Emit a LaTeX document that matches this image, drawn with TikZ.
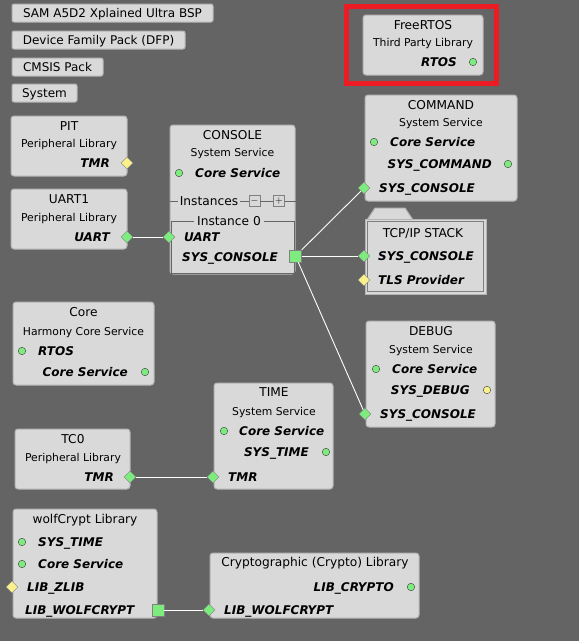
\documentclass[tikz,border=0pt]{standalone}
\usepackage{fontspec}
\setmainfont{DejaVu Sans}
\usetikzlibrary{shapes.geometric}

\definecolor{bggray}{RGB}{100,100,100}
\definecolor{boxgray}{RGB}{217,217,217}
\definecolor{edgegray}{RGB}{180,180,180}
\definecolor{portgreen}{RGB}{125,235,125}
\definecolor{portyellow}{RGB}{250,240,140}
\definecolor{hired}{RGB}{237,28,36}

\begin{document}
\begin{tikzpicture}[x=1pt, y=-1pt,
    comp/.style={draw=edgegray, fill=boxgray, rounded corners=3pt, line width=1pt, inner sep=0pt},
    btn/.style={draw=edgegray, fill=boxgray, rounded corners=2pt, line width=1pt, minimum height=18pt,
        inner sep=0pt, text height=8.6pt, text depth=0pt, font=\fontsize{12}{13}\selectfont},
    title/.style={inner sep=0pt, text height=8.8pt, text depth=0pt, font=\fontsize{12.2}{13}\selectfont},
    sub/.style={inner sep=0pt, text height=7.8pt, text depth=0pt, font=\fontsize{10.8}{12}\selectfont},
    lbl/.style={inner sep=0pt, text height=8.7pt, text depth=0pt, font=\fontsize{12}{13}\selectfont\bfseries\itshape},
    dot/.style={circle, draw=black!75, fill=portgreen, minimum size=7.5pt, inner sep=0pt},
    ydot/.style={dot, fill=portyellow},
    dia/.style={diamond, draw=gray, fill=portgreen, minimum size=12pt, inner sep=0pt},
    ydia/.style={dia, fill=portyellow},
    sq/.style={rectangle, draw=gray, fill=portgreen, minimum size=12pt, inner sep=0pt},
    wire/.style={draw=white, line width=0.9pt}]
    \fill[bggray] (0, 0) rectangle (579, 641);

    % packs
    \node[btn, minimum width=201pt] (bsp) at (112.5, 13) {SAM A5D2 Xplained Ultra BSP};
    \node[btn, minimum width=173pt] (dfp) at (98.5, 40) {Device Family Pack (DFP)};
    \node[btn, minimum width=91pt] (cmsis) at (57.5, 67) {CMSIS Pack};
    \node[btn, minimum width=65pt] (sys) at (44.5, 93) {System};

    % FreeRTOS
    \node[comp, minimum width=120pt, minimum height=60pt] (rtos) at (423, 45) {};
    \node[title] (rtos-n) at (423, 25) {FreeRTOS};
    \node[sub] (rtos-s) at (423, 43) {Third Party Library};
    \node[lbl, anchor=east] (rtos-l) at (457, 62) {RTOS};
    \node[dot] (rtos-rtos) at (473, 62) {};
    \node[draw=hired, line width=5pt, minimum width=150pt, minimum height=77pt] (mark) at (421.5, 44.5) {};

    % PIT
    \node[comp, minimum width=116pt, minimum height=60pt] (pit) at (69, 146) {};
    \node[title] (pit-n) at (69, 126) {PIT};
    \node[sub] (pit-s) at (69, 144) {Peripheral Library};
    \node[lbl, anchor=east] (pit-l) at (110, 163) {TMR};
    \node[ydia] (pit-tmr) at (127, 163) {};

    % UART1
    \node[comp, minimum width=116pt, minimum height=60pt] (uart) at (69, 219) {};
    \node[title] (uart-n) at (69, 199) {UART1};
    \node[sub] (uart-s) at (69, 218) {Peripheral Library};
    \node[lbl, anchor=east] (uart-l) at (110, 237) {UART};
    \node[dia] (uart-uart) at (127, 237) {};

    % CONSOLE
    \node[comp, minimum width=125pt, minimum height=149pt] (con) at (232.5, 199.5) {};
    \node[title] (con-n) at (232.5, 135) {CONSOLE};
    \node[sub] (con-s) at (232.5, 153) {System Service};
    \node[dot] (con-core) at (179, 173) {};
    \node[lbl, anchor=west] (con-cl) at (195, 173) {Core Service};
    \node[title, inner xsep=2pt] (inst) at (209, 201) {Instances};
    \node[draw=gray, fill=boxgray, minimum size=11pt, inner sep=0pt, font=\bfseries] (minus) at (254.5, 201) {$-$};
    \node[draw=gray, fill=boxgray, minimum size=11pt, inner sep=0pt, font=\bfseries] (plus) at (279, 201) {$+$};
    \draw[black!60] (con.west |- inst) -- (inst);
    \draw[black!60] (inst) -- (minus);
    \draw[black!60] (minus) -- (plus);
    \draw[black!60] (plus) -- (con.east |- plus);
    \node[draw=black!60, minimum width=123pt, minimum height=52pt, inner sep=0pt] (inst0) at (232.5, 247) {};
    \node[title, fill=boxgray, inner xsep=3pt] (inst0-n) at (229, 221) {Instance 0};
    \node[dia] (con-uart) at (169, 237) {};
    \node[lbl, anchor=west] (con-ul) at (184, 237) {UART};
    \node[lbl, anchor=west] (con-sl) at (182, 257) {SYS\_CONSOLE};
    \node[sq] (con-sys) at (295.5, 256) {};

    % COMMAND
    \node[comp, minimum width=152pt, minimum height=106pt] (cmd) at (441, 148) {};
    \node[title] (cmd-n) at (441, 105) {COMMAND};
    \node[sub] (cmd-s) at (441, 123) {System Service};
    \node[dot] (cmd-core) at (374, 142) {};
    \node[lbl, anchor=west] (cmd-cl) at (390, 142) {Core Service};
    \node[lbl, anchor=east] (cmd-ml) at (492, 164) {SYS\_COMMAND};
    \node[dot] (cmd-cmd) at (508, 164) {};
    \node[lbl, anchor=west] (cmd-sl) at (379, 188) {SYS\_CONSOLE};
    \node[dia] (cmd-con) at (364, 188) {};

    % TCP/IP STACK
    \draw[draw=edgegray, fill=boxgray, line width=1pt] (367, 220) -- (375, 208) -- (405, 208) -- (413, 220);
    \node[draw=edgegray, fill=boxgray, line width=1pt, minimum width=121pt, minimum height=75pt] (tcp) at (425.5, 256.5) {};
    \node[draw=gray, minimum width=116pt, minimum height=70pt] (tcp-in) at (425.5, 256.5) {};
    \node[title] (tcp-n) at (423, 233) {TCP/IP STACK};
    \node[lbl, anchor=west] (tcp-sl) at (378, 256) {SYS\_CONSOLE};
    \node[dia] (tcp-con) at (364, 256) {};
    \node[lbl, anchor=west] (tcp-tl) at (378, 280) {TLS Provider};
    \node[ydia] (tcp-tls) at (364, 280) {};

    % DEBUG
    \node[comp, minimum width=129pt, minimum height=106pt] (dbg) at (430.5, 374) {};
    \node[title] (dbg-n) at (431, 331) {DEBUG};
    \node[sub] (dbg-s) at (431, 350) {System Service};
    \node[dot] (dbg-core) at (376, 369) {};
    \node[lbl, anchor=west] (dbg-cl) at (392, 369) {Core Service};
    \node[lbl, anchor=east] (dbg-dl) at (470, 390) {SYS\_DEBUG};
    \node[ydot] (dbg-dbg) at (487, 390) {};
    \node[lbl, anchor=west] (dbg-sl) at (380, 414) {SYS\_CONSOLE};
    \node[dia] (dbg-con) at (365, 414) {};

    % Core
    \node[comp, minimum width=141pt, minimum height=83pt] (core) at (83.5, 343.5) {};
    \node[title] (core-n) at (83.5, 312) {Core};
    \node[sub] (core-s) at (83.5, 332) {Harmony Core Service};
    \node[dot] (core-rtos) at (22, 351) {};
    \node[lbl, anchor=west] (core-rl) at (38, 351) {RTOS};
    \node[lbl, anchor=east] (core-cl) at (128, 372) {Core Service};
    \node[dot] (core-core) at (145, 372) {};

    % TIME
    \node[comp, minimum width=119pt, minimum height=106pt] (time) at (273.5, 436) {};
    \node[title] (time-n) at (274, 392) {TIME};
    \node[sub] (time-s) at (274, 412) {System Service};
    \node[dot] (time-core) at (224, 431) {};
    \node[lbl, anchor=west] (time-cl) at (239, 431) {Core Service};
    \node[lbl, anchor=east] (time-sl) at (309, 452) {SYS\_TIME};
    \node[dot] (time-sys) at (326, 452) {};
    \node[lbl, anchor=west] (time-tl) at (228, 477) {TMR};
    \node[dia] (time-tmr) at (213, 477) {};

    % TC0
    \node[comp, minimum width=115pt, minimum height=60pt] (tc) at (72.5, 459) {};
    \node[title] (tc-n) at (73, 439) {TC0};
    \node[sub] (tc-s) at (73, 458) {Peripheral Library};
    \node[lbl, anchor=east] (tc-l) at (114, 477) {TMR};
    \node[dia] (tc-tmr) at (130, 477) {};

    % wolfCrypt
    \node[comp, minimum width=144pt, minimum height=109pt] (wolf) at (85, 563.5) {};
    \node[title] (wolf-n) at (85, 519) {wolfCrypt Library};
    \node[dot] (wolf-time) at (22, 542) {};
    \node[lbl, anchor=west] (wolf-tl) at (38, 542) {SYS\_TIME};
    \node[dot] (wolf-core) at (22, 564) {};
    \node[lbl, anchor=west] (wolf-cl) at (38, 564) {Core Service};
    \node[ydia] (wolf-zlib) at (12, 587) {};
    \node[lbl, anchor=west] (wolf-zl) at (27, 587) {LIB\_ZLIB};
    \node[lbl, anchor=west] (wolf-wl) at (25, 610) {LIB\_WOLFCRYPT};
    \node[sq] (wolf-lib) at (158, 610) {};

    % Crypto
    \node[comp, minimum width=209pt, minimum height=65pt] (cry) at (314.5, 585.5) {};
    \node[title] (cry-n) at (315, 562) {Cryptographic (Crypto) Library};
    \node[lbl, anchor=east] (cry-cl) at (394, 587) {LIB\_CRYPTO};
    \node[dot] (cry-crypto) at (411, 587) {};
    \node[lbl, anchor=west] (cry-wl) at (224, 610) {LIB\_WOLFCRYPT};
    \node[dia] (cry-wolf) at (209, 610) {};

    % connections
    \draw[wire] (uart-uart) -- (con-uart);
    \draw[wire] (con-sys) -- (cmd-con);
    \draw[wire] (con-sys) -- (tcp-con);
    \draw[wire] (con-sys) -- (dbg-con);
    \draw[wire] (tc-tmr) -- (time-tmr);
    \draw[wire] (wolf-lib) -- (cry-wolf);
\end{tikzpicture}
\end{document}
